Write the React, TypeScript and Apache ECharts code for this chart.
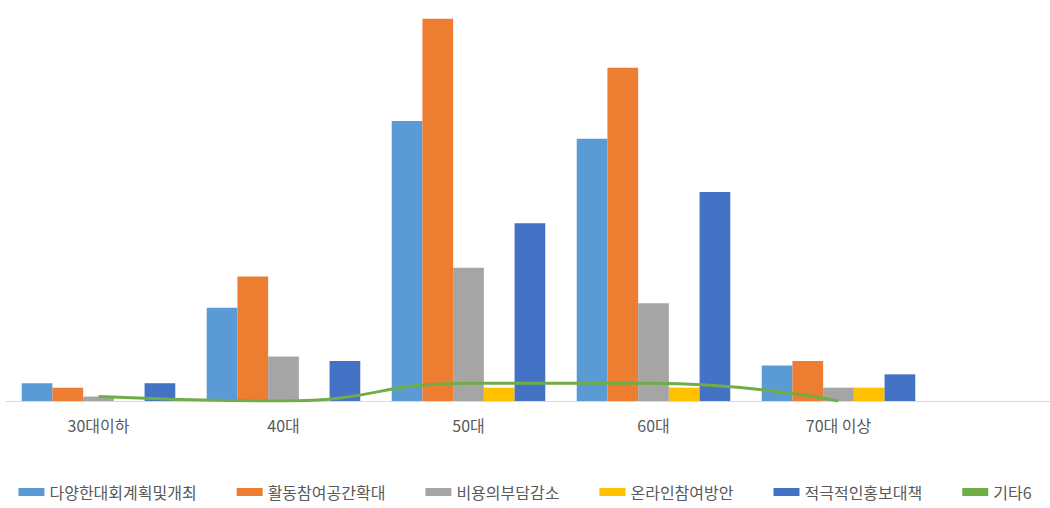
import React, { useEffect, useRef } from "react";
import * as echarts from "echarts";

const categories = ["30대이하", "40대", "50대", "60대", "70대 이상"];
const seriesNames = ["다양한대회계획및개최", "활동참여공간확대", "비용의부담감소", "온라인참여방안", "적극적인홍보대책", "기타6"];
const variedEvents = [4, 21, 63, 59, 8];
const activitySpace = [3, 28, 86, 75, 9];
const costReduction = [1, 10, 30, 22, 3];
const onlineParticipation = [0, 0, 3, 3, 3];
const activePromotion = [4, 9, 40, 47, 6];
const others = [1, 0, 4, 4, 0];
const colors = ["#5B9BD5", "#ED7D31", "#A5A5A5", "#FFC000", "#4472C4", "#70AD47"];

export default function App() {
  const ref = useRef<HTMLDivElement>(null);
  useEffect(() => {
    if (!ref.current) return;
    const chart = echarts.init(ref.current, undefined, { renderer: "svg" });
    const barData = [variedEvents, activitySpace, costReduction, onlineParticipation, activePromotion];
    const font = "'Noto Sans CJK KR', 'Noto Sans', sans-serif";
    chart.setOption({
      animation: false,
      color: colors,
      textStyle: { fontFamily: font },
      grid: { left: 6, top: 1, width: 925, height: 400 },
      xAxis: {
        type: "category",
        data: categories,
        axisLine: { lineStyle: { color: "#D9D9D9", width: 1 } },
        axisTick: { show: false },
        axisLabel: { color: "#595959", fontSize: 16, margin: 16, fontFamily: font },
      },
      yAxis: {
        type: "value",
        min: 0,
        max: 90,
        show: false,
        splitLine: { show: false },
      },
      legend: {
        bottom: 3,
        left: "center",
        itemWidth: 26,
        itemHeight: 8,
        itemGap: 40,
        textStyle: { color: "#595959", fontSize: 16, fontFamily: font },
        data: seriesNames.map((n, i) => (i === 5 ? { name: n, icon: "rect", itemStyle: { color: colors[5] } } : { name: n, icon: "rect" })),
      },
      graphic: [
        {
          type: "line",
          shape: { x1: 931, y1: 401.5, x2: 1050, y2: 401.5 },
          style: { stroke: "#D9D9D9", lineWidth: 1 },
        },
      ],
      series: [
        ...barData.map((d, i) => ({
          name: seriesNames[i],
          type: "bar",
          data: d,
          barGap: "0%",
          barCategoryGap: "17%",
          itemStyle: { color: colors[i] },
        })),
        {
          name: seriesNames[5],
          type: "line",
          data: others,
          smooth: true,
          symbol: "none",
          lineStyle: { color: colors[5], width: 3 },
          itemStyle: { color: colors[5] },
          z: 5,
        },
      ],
    });
    return () => chart.dispose();
  }, []);
  return <div ref={ref} style={{ position: "absolute", left: 0, top: 0, width: 1050, height: 508 }} />;
}
